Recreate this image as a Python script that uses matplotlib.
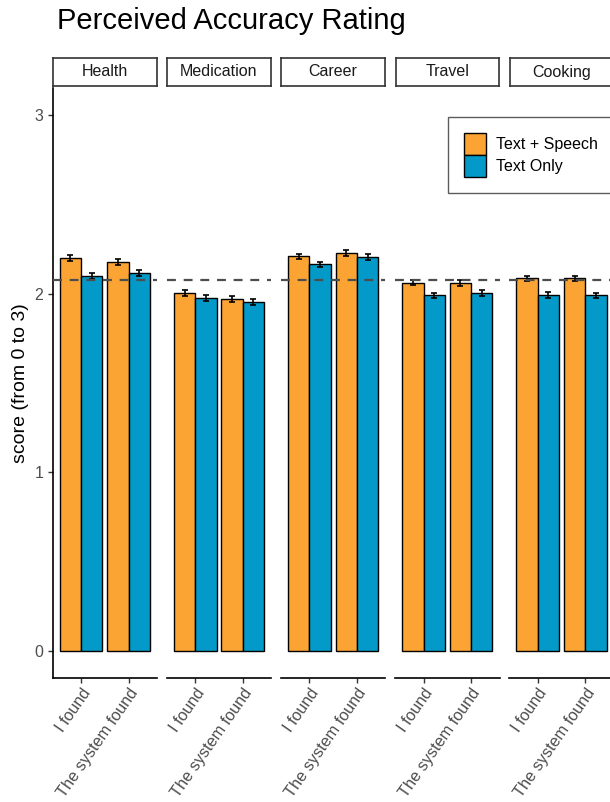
import matplotlib.pyplot as plt
import numpy as np
from matplotlib.patches import Patch

plt.rcParams['font.family'] = ['Liberation Sans', 'DejaVu Sans']

# data
topics = ["Health", "Medication", "Career", "Travel", "Cooking"]
conditions = ["I found", "The system found"]
speech = [[2.200, 2.176], [2.004, 1.968], [2.208, 2.227], [2.062, 2.060], [2.085, 2.085]]
text_only = [[2.100, 2.115], [1.975, 1.955], [2.163, 2.203], [1.990, 2.005], [1.994, 1.990]]
speech_err = [[0.016, 0.016], [0.016, 0.016], [0.016, 0.016], [0.016, 0.016], [0.016, 0.016]]
text_err = [[0.016, 0.016], [0.016, 0.016], [0.016, 0.016], [0.016, 0.016], [0.016, 0.016]]
overall_mean = 2.077
series_names = ["Text + Speech", "Text Only"]

orange = "#FCA433"
blue = "#0399C8"

W, H = 610, 802
fig = plt.figure(figsize=(W / 100, H / 100), dpi=100)

def px(x0, y0, w, h):
    # pixel box (top-left origin) -> figure fraction
    return [x0 / W, 1 - (y0 + h) / H, w / W, h / H]

panel_top, panel_bot = 88, 678
step = 114.2
pw = 104.5
xs = np.arange(1, len(conditions) + 1)
bw = 0.45

for i, topic in enumerate(topics):
    x0 = 52.5 + i * step
    ax = fig.add_axes(px(x0, panel_top, pw, panel_bot - panel_top))
    ax.bar(xs - bw / 2, speech[i], bw, color=orange, edgecolor="black", linewidth=1.0, zorder=2)
    ax.bar(xs + bw / 2, text_only[i], bw, color=blue, edgecolor="black", linewidth=1.0, zorder=2)
    ax.errorbar(xs - bw / 2, speech[i], yerr=speech_err[i], fmt="none", ecolor="black",
                elinewidth=1.2, capsize=2.5, capthick=1.2, zorder=3)
    ax.errorbar(xs + bw / 2, text_only[i], yerr=text_err[i], fmt="none", ecolor="black",
                elinewidth=1.2, capsize=2.5, capthick=1.2, zorder=3)
    ax.axhline(overall_mean, color="#4d4d4d", linestyle=(0, (4, 3.5)), linewidth=1.6, zorder=4)
    ax.set_xlim(0.4, 2.6)
    ax.set_ylim(-0.15, 3.15)
    ax.set_xticks(xs)
    ax.set_xticklabels(conditions, rotation=55, ha="right", rotation_mode="anchor",
                       fontsize=11.7, color="#4d4d4d")
    ax.tick_params(axis="x", length=3.5, width=1.0, colors="#333333", labelcolor="#4d4d4d", pad=2)
    for s in ["top", "right"]:
        ax.spines[s].set_visible(False)
    ax.spines["bottom"].set_linewidth(1.2)
    if i == 0:
        ax.spines["left"].set_linewidth(1.2)
        ax.set_yticks([0, 1, 2, 3])
        ax.tick_params(axis="y", length=3.5, width=1.0, colors="#333333",
                       labelcolor="#4d4d4d", labelsize=11.5, pad=3)
        ax.set_ylabel("score (from 0 to 3)", fontsize=14, labelpad=4)
    else:
        ax.spines["left"].set_visible(False)
        ax.set_yticks([])

    # facet strip
    sax = fig.add_axes(px(x0 + 0.5, 58, pw - 1, 28))
    sax.set_xticks([])
    sax.set_yticks([])
    for s in sax.spines.values():
        s.set_linewidth(1.2)
        s.set_color("#333333")
    sax.text(0.5, 0.5, topic, ha="center", va="center", fontsize=11.5, color="#1a1a1a",
             transform=sax.transAxes)

fig.text(57 / W, 1 - 21 / H, "Perceived Accuracy Rating", fontsize=21, ha="left", va="center")

handles = [Patch(facecolor=orange, edgecolor="black", linewidth=1.0),
           Patch(facecolor=blue, edgecolor="black", linewidth=1.0)]
leg = fig.legend(handles, series_names, loc="upper left", mode="expand",
                 bbox_to_anchor=(448 / W, 1 - 200 / H, 0.3, 83 / H),
                 fontsize=11.5, frameon=True, fancybox=False, borderpad=1.0,
                 handlelength=1.35, handleheight=1.75, labelspacing=0.0, handletextpad=0.65,
                 borderaxespad=0)
leg.get_frame().set_edgecolor("#333333")
leg.get_frame().set_linewidth(1.0)

plt.savefig("out.png", dpi=100)
